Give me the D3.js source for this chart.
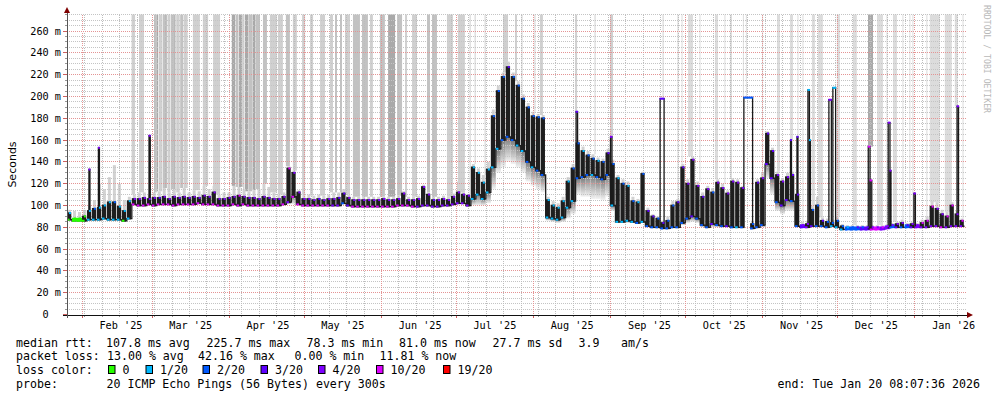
<!DOCTYPE html>
<html lang="en">
<head>
<meta charset="UTF-8">
<title>Smokeping - last 360 days</title>
<script src="https://d3js.org/d3.v7.min.js"></script>
<style>
  body { margin: 0; background: #fff; }
  svg { display: block; }
</style>
</head>
<body>
<script>
// plot window (UTC), 2-day buckets, values in ms
const startTime = Date.UTC(2025, 0, 25, 20, 45);
const spanDays = 361;
const bucketDays = 2;

// median rtt swing per bucket (low / high edge of the dark band)
const rttLow = [
  87,86,86,86,87,87,87,88,87,87, 87,86,88,101,100,100,101,100,101,101,
  101,100,101,101,101,101,102,101,101,101, 100,100,100,101,100,101,100,100,100,100,
  100,100,100,101,103,108,101,100,100,100, 100,100,100,100,100,102,100,99,99,99,
  99,99,99,99,99,99,100,100,100,99, 99,100,100,99,99,100,100,101,102,102,
  100,106,110,106,112,135,152,160,163,160, 155,150,140,135,132,128,89,88,87,89,
  98,104,125,126,128,128,126,124,128,100, 85,85,86,85,84,85,81,80,80,79,
  79,80,80,84,88,90,88,82,80,83, 82,81,81,80,80,80,null,79,80,82,
  138,125,103,100,105,104,81,80,80,81, 81,81,80,81,80,78,78,78,78,78,
  78,78,78,78,79,80,80,80,80,80, 80,80,80,81,81,80,80,81,81,81
];
const rttHigh = [
  93,88,88,90,95,97,98,100,103,103, 99,95,104,106,106,107,106,107,107,108,
  106,108,107,108,107,108,107,109,108,112, 106,106,107,108,109,108,107,107,106,108,
  107,106,106,108,134,130,112,106,106,105, 106,105,106,106,107,111,107,105,105,105,
  105,105,105,106,105,105,106,111,105,105, 106,117,110,105,105,106,105,108,112,110,
  109,135,130,121,133,182,205,218,227,218, 210,198,190,182,181,180,105,100,98,104,
  122,134,157,150,146,143,141,140,148,138, 125,120,118,104,103,129,95,90,88,84,
  86,100,103,135,120,142,118,108,115,112, 121,116,111,122,121,116,null,83,121,125,
  166,150,128,122,126,128,110,82,83,96, 100,86,85,84,86,81,80,80,80,80,
  80,80,80,80,81,82,83,84,82,83, 82,84,86,99,97,92,90,100,92,86
];
// extent of the grey smoke below and above the band
const smokeLow = [
  87,86,86,86,87,87,87,88,87,87, 87,86,88,101,100,100,101,100,101,101,
  101,100,101,101,101,101,102,101,101,101, 100,100,100,101,100,101,100,100,100,100,
  100,100,100,101,101,101,101,100,100,100, 100,100,100,100,100,102,100,99,99,99,
  99,99,99,99,99,99,100,100,100,99, 99,100,100,99,99,100,100,101,102,102,
  100,100,100,100,102,115,130,135,140,138, 135,130,122,118,115,112,86,85,84,85,
  88,92,110,108,108,106,106,105,108,95, 84,84,84,84,83,84,80,79,79,78,
  78,79,79,82,84,85,84,80,79,80, 80,80,80,79,79,79,null,78,79,80,
  125,110,95,92,95,95,80,79,79,80, 80,80,79,80,79,78,78,78,78,78,
  78,78,78,78,78,79,79,79,79,79, 79,79,79,80,80,79,79,80,80,80
];
const smokeHigh = [
  96,95,94,96,100,105,120,115,126,137, 120,105,108,110,112,112,110,112,113,116,
  112,115,112,116,112,114,113,118,115,118, 110,112,112,118,117,115,113,114,115,120,
  117,112,110,112,136,132,114,110,110,109, 110,109,110,112,112,115,110,108,108,108,
  108,108,108,108,108,108,109,113,108,108, 109,119,112,108,108,109,108,111,122,112,
  110,138,134,128,140,188,210,222,232,222, 214,202,194,186,184,183,108,104,102,108,
  126,138,160,154,150,147,144,143,152,142, 128,124,122,108,106,131,98,92,90,86,
  90,104,106,138,124,145,122,112,118,116, 124,120,114,125,124,118,null,86,124,130,
  168,153,131,125,130,131,114,85,86,100, 108,89,88,87,90,83,82,82,82,82,
  82,82,82,82,83,84,85,87,84,85, 84,87,90,104,103,96,94,103,95,88
];
// loss colour index seen at the low and at the high edge
const lossLow = [
  0,0,0,0,1,1,1,1,1,1, 1,0,1,5,5,5,5,5,5,5,
  5,5,5,5,5,5,5,5,5,5, 5,5,5,5,5,5,5,5,5,5,
  5,5,5,5,4,5,5,5,5,5, 5,5,5,4,4,2,3,5,5,5,
  5,5,5,5,5,5,5,5,5,5, 4,4,4,4,4,4,4,4,4,4,
  4,1,1,1,1,1,1,2,2,2, 1,1,2,1,2,2,1,1,1,1,
  1,1,2,2,2,1,2,2,2,1, 1,1,1,1,2,1,2,2,2,2,
  2,2,2,2,2,3,2,2,2,3, 2,2,3,2,1,2,2,2,2,2,
  3,3,2,3,3,2,2,3,4,3, 2,2,2,1,1,1,2,2,2,3,
  3,5,5,4,4,2,3,2,2,3, 4,4,4,4,4,5,4,4,4,4
];
const lossHigh = [
  1,0,0,0,1,2,1,1,1,2, 1,1,1,4,4,4,4,4,3,4,
  4,4,4,4,4,4,4,4,4,4, 4,4,4,4,5,4,4,4,4,4,
  4,4,4,4,5,4,4,4,4,4, 3,4,4,4,3,3,4,4,4,4,
  4,4,4,4,4,4,4,4,4,4, 4,4,4,3,4,4,4,4,4,4,
  4,1,1,1,1,2,2,2,3,2, 2,2,2,2,2,2,1,1,1,1,
  1,2,2,1,2,2,1,2,3,2, 1,2,1,2,1,2,3,3,2,3,
  2,2,3,3,4,4,4,3,4,2, 4,4,4,4,4,4,2,2,3,4,
  3,3,4,4,4,3,3,4,4,2, 2,3,2,2,2,2,1,2,3,2,
  3,4,4,5,4,4,4,4,3,4, 4,5,5,5,4,4,5,5,4,5
];

// single-sample spikes and plateaus: [start day, end day, top ms, loss index]
const spikes = [
  [8.8, 9.2, 133, 4], [12.6, 13.0, 153, 4], [32.9, 33.4, 164, 4],
  [204.2, 204.8, 186, 3], [218.0, 218.6, 163, 4], [237.9, 239.5, 198, 3],
  [271.5, 275.0, 199, 2], [290.2, 290.6, 160, 3], [292.8, 293.2, 163, 3],
  [297.2, 297.8, 206, 1], [297.8, 298.2, 160, 1], [305.6, 306.6, 197, 4],
  [307.2, 308.3, 208, 1], [321.4, 322.1, 154, 5], [322.1, 322.8, 123, 5],
  [329.4, 330.1, 176, 4], [330.1, 330.5, 132, 4], [339.7, 340.3, 111, 4],
  [357.0, 357.6, 191, 4]
];

// smoke running off the top of the graph: [start day, end day, shade]
const topSmoke = [
  [25.9,27.3,1],[28.9,30.9,1],
  [34.9,36.0,2],[36.0,36.6,3],[36.9,38.2,1],[38.4,39.4,2],[39.4,40.0,3],[40.3,41.5,1],
  [41.7,43.0,2],[43.0,43.5,3],[43.8,45.2,1],[45.4,46.6,2],[46.8,48.4,1],
  [50.5,53.3,1],[54.5,56.6,1],[58.6,61.4,1],
  [66.1,67.4,3],[67.6,68.8,2],[69.0,70.4,3],[70.6,71.2,1],[71.4,72.8,3],[73.0,74.2,2],
  [74.4,75.6,3],[75.8,77.4,2],
  [78.6,80.2,2],[81.4,84.2,1],[84.6,86.6,1],
  [87.8,89.4,2],[90.6,92.2,1],[94.3,95.5,1],[97.5,98.7,1],[101.5,103.5,1],[105.5,106.7,1],
  [107.5,108.3,2],[109.5,110.3,2],[111.5,113.5,1],[114.7,117.5,2],[118.3,120.7,2],[121.5,122.7,1],
  [125.5,127.5,2],[128.8,131.6,3],[132.4,134.4,2],[135.6,136.4,1],[138.4,140.4,1],[144.4,145.6,2],
  [146.4,148.4,2],[152.4,154.8,1],[156.8,159.6,1],
  [161.5,161.9,1],[163.5,163.9,1],[167.5,167.9,1],[174.9,176.9,1],[179.7,180.5,1],[182.3,182.7,1],
  [187.5,187.9,1],[189.7,190.9,1],[203.8,204.6,1],[211.6,212.0,1],[217.8,219.0,1],[238.9,239.3,1],
  [244.9,245.3,1],
  [246.5,246.9,0],[249.1,251.1,0],[253.7,254.1,0],[259.9,261.1,0],[263.7,264.1,0],[265.9,266.7,0],
  [271.1,271.5,0],[272.3,272.7,0],[278.8,279.2,0],[284.8,286.0,0],[290.0,291.2,0],[293.0,293.4,0],
  [295.0,295.4,0],[298.8,300.0,0],[301.2,303.2,0],[308.8,310.0,0],[315.2,316.8,0],[321.3,323.3,3],
  [324.9,327.3,0],[328.7,329.1,0],[331.3,332.9,0],[335.1,335.5,0],[337.9,338.3,0],[339.1,339.5,0],
  [344.7,345.1,0],[346.1,350.1,0],[352.1,354.9,0],[356.1,357.3,0],[359.2,359.6,0]
];

const lossColors = ["#26ff00", "#00b8ff", "#0059ff", "#5e00ff", "#7e00ff", "#dd00ff", "#ff0000"];
const lossLabels = ["0", "1/20", "2/20", "3/20", "4/20", "10/20", "19/20"];
const yTicks = d3.range(0, 261, 20);
const rttStats = ["107.8 ms avg", "225.7 ms max", "78.3 ms min", "81.0 ms now", "27.7 ms sd", "3.9", "am/s"];
const lossStats = ["13.00 % avg", "42.16 % max", "0.00 % min", "11.81 % now"];
const probeText = "20 ICMP Echo Pings (56 Bytes) every 300s";
const endText = "end: Tue Jan 20 08:07:36 2026";

// ---------------------------------------------------------------
const mono = "'DejaVu Sans Mono', monospace";
const shades = ["#dcdcdc", "#d0d0d0", "#c2c2c2", "#a9a9a9"];
const yMax = 275.2;

const svg = d3.select("body").append("svg")
    .attr("width", 997)
    .attr("height", 397);

svg.append("rect").attr("width", 997).attr("height", 397).attr("fill", "#fff");

const day = d => new Date(startTime + d * 864e5);
const x = d3.scaleUtc().domain([day(0), day(spanDays)]).range([67, 967]);
const y = d3.scaleLinear().domain([0, yMax]).range([314.5, 14.5]);
const xd = d => x(day(d));

const grad = svg.append("defs").append("linearGradient")
    .attr("id", "smoke").attr("x1", 0).attr("y1", 0).attr("x2", 0).attr("y2", 1);
grad.append("stop").attr("offset", 0).attr("stop-color", "#7a7a7a");
grad.append("stop").attr("offset", 1).attr("stop-color", "#f2f2f2");

const buckets = rttLow.map((lo, i) => ({
    lo, hi: rttHigh[i], sLo: smokeLow[i], sHi: smokeHigh[i],
    lLo: lossLow[i], lHi: lossHigh[i],
    d0: i * bucketDays, d1: (i + 1) * bucketDays
})).filter(b => b.lo != null);

const bucketAt = d => Math.max(0, Math.min(rttLow.length - 1, Math.floor(d / bucketDays)));
function baseAt(d) {
    let i = bucketAt(d);
    while (rttLow[i] == null && i > 0) i--;
    return rttLow[i];
}
function smokeTopAt(d) {
    let v = smokeHigh[bucketAt(d)] || 0;
    spikes.forEach(s => { if (d >= s[0] - 0.3 && d <= s[1] + 0.3) v = Math.max(v, s[2]); });
    return v;
}

// smoke that goes off the top
svg.append("g").selectAll("rect")
    .data(topSmoke)
    .join("rect")
    .attr("x", d => xd(d[0]))
    .attr("width", d => Math.max(1, xd(d[1]) - xd(d[0])))
    .attr("y", y(yMax))
    .attr("height", d => y(smokeTopAt((d[0] + d[1]) / 2)) - y(yMax))
    .attr("fill", d => shades[d[2]]);

const smoke = svg.append("g");

// upper smoke
smoke.selectAll(".sup")
    .data(buckets.filter(b => b.sHi > b.hi))
    .join("rect")
    .attr("x", b => xd(b.d0) + 1)
    .attr("width", b => xd(b.d1) - xd(b.d0) - 2)
    .attr("y", b => y(b.sHi))
    .attr("height", b => y(b.hi) - y(b.sHi))
    .attr("fill", "#d2d2d2");

// lower smoke, fading out
smoke.selectAll(".sdn")
    .data(buckets.filter(b => b.lo > b.sLo))
    .join("rect")
    .attr("x", b => xd(b.d0))
    .attr("width", b => xd(b.d1) - xd(b.d0))
    .attr("y", b => y(b.lo))
    .attr("height", b => y(b.sLo) - y(b.lo))
    .attr("fill", "url(#smoke)");

// grid (over the smoke, under the median)
const grid = svg.append("g").attr("shape-rendering", "crispEdges").attr("stroke-dasharray", "1,1");
const minorY = d3.range(5, yMax, 5).filter(v => v % 20 !== 0);
grid.selectAll(".gy")
    .data(minorY)
    .join("line")
    .attr("x1", 67).attr("x2", 967)
    .attr("y1", d => y(d)).attr("y2", d => y(d))
    .attr("stroke", "#c4c4c4");
const weeks = d3.utcSunday.range(day(0), day(spanDays));
grid.selectAll(".gx")
    .data(weeks)
    .join("line")
    .attr("x1", d => x(d)).attr("x2", d => x(d))
    .attr("y1", y(yMax)).attr("y2", y(0))
    .attr("stroke", "#bdbdbd");
grid.selectAll(".my")
    .data(yTicks.slice(1))
    .join("line")
    .attr("x1", 67).attr("x2", 967)
    .attr("y1", d => y(d)).attr("y2", d => y(d))
    .attr("stroke", "#e49494");
const months = d3.utcMonth.range(day(0), day(spanDays));
grid.selectAll(".mx")
    .data(months)
    .join("line")
    .attr("x1", d => x(d)).attr("x2", d => x(d))
    .attr("y1", y(yMax)).attr("y2", y(0))
    .attr("stroke", "#e49494");

const plot = svg.append("g");

// thin median trace along the low edge
const trace = [];
rttLow.forEach((v, i) => {
    trace.push([i * bucketDays, v]);
    if (i === rttLow.length - 1) trace.push([(i + 1) * bucketDays, v]);
});
plot.append("path")
    .datum(trace)
    .attr("d", d3.line().defined(p => p[1] != null).x(p => xd(p[0])).y(p => y(p[1])).curve(d3.curveStepAfter))
    .attr("fill", "none")
    .attr("stroke", "#1e1e1e")
    .attr("stroke-width", 1.3);

// dark median band
plot.selectAll(".band")
    .data(buckets)
    .join("rect")
    .attr("x", b => xd(b.d0))
    .attr("width", b => (b.hi - b.lo < 3) ? xd(b.d1) - xd(b.d0) + 0.2 : xd(b.d1) - xd(b.d0) - 0.7)
    .attr("y", b => y(b.hi) - 0.8)
    .attr("height", b => y(b.lo) - y(b.hi) + 1.6)
    .attr("fill", b => (b.hi - b.lo < 3) ? lossColors[b.lLo] : "#1e1e1e");

// spikes / plateaus
plot.selectAll(".spike")
    .data(spikes)
    .join("path")
    .attr("d", s => `M${xd(s[0])},${y(baseAt(s[0]))}V${y(s[2])}H${xd(s[1])}V${y(baseAt(s[1]))}`)
    .attr("fill", "none")
    .attr("stroke", "#1a1a1a")
    .attr("stroke-width", 1.3);
plot.selectAll(".spikeTop")
    .data(spikes)
    .join("rect")
    .attr("x", s => xd(s[0]) - 0.5)
    .attr("width", s => xd(s[1]) - xd(s[0]) + 1)
    .attr("y", s => y(s[2]) - 1)
    .attr("height", 2)
    .attr("fill", s => lossColors[s[3]]);

// loss colour marks on the band edges
plot.selectAll(".lo")
    .data(buckets)
    .join("rect")
    .attr("x", b => xd(b.d0))
    .attr("width", 2.6)
    .attr("y", b => y(b.lo) - 1)
    .attr("height", 2)
    .attr("fill", b => lossColors[b.lLo]);
plot.selectAll(".hi")
    .data(buckets)
    .join("rect")
    .attr("x", b => xd(b.d0) + 2)
    .attr("width", 2)
    .attr("y", b => y(b.hi) - 1)
    .attr("height", 2)
    .attr("fill", b => lossColors[b.lHi]);

// axes
const axes = svg.append("g").attr("shape-rendering", "crispEdges");
axes.selectAll(".ty")
    .data(d3.range(0, yMax, 5))
    .join("line")
    .attr("x1", d => d % 20 === 0 ? 63 : 65).attr("x2", 67)
    .attr("y1", d => y(d)).attr("y2", d => y(d))
    .attr("stroke", d => d % 20 === 0 ? "#cc6060" : "#999");
axes.selectAll(".tw")
    .data(weeks)
    .join("line")
    .attr("x1", d => x(d)).attr("x2", d => x(d))
    .attr("y1", 315).attr("y2", 317)
    .attr("stroke", "#999");
axes.selectAll(".tm")
    .data(months)
    .join("line")
    .attr("x1", d => x(d)).attr("x2", d => x(d))
    .attr("y1", 315).attr("y2", 318)
    .attr("stroke", "#cc6060");
axes.append("line").attr("x1", 63).attr("x2", 968).attr("y1", 315).attr("y2", 315).attr("stroke", "#111");
axes.append("line").attr("x1", 67).attr("x2", 67).attr("y1", 318).attr("y2", 12).attr("stroke", "#555");
svg.append("path").attr("d", "M967,312L973,315L967,318Z").attr("fill", "#7f0000");
svg.append("path").attr("d", "M64,13L67,7L70,13Z").attr("fill", "#7f0000");

// tick labels
svg.append("g").selectAll("text")
    .data(yTicks)
    .join("text")
    .attr("x", d => d === 0 ? 48.7 : 61)
    .attr("y", d => y(d) + 3.6)
    .attr("text-anchor", "end")
    .style("font-family", mono)
    .style("font-size", "10.2px")
    .text(d => d === 0 ? "0" : d + " m");

const fmtMonth = d3.utcFormat("%b '%y");
svg.append("g").selectAll("text")
    .data(months)
    .join("text")
    .attr("x", d => x(new Date(+d + 15.5 * 864e5)))
    .attr("y", 328.5)
    .attr("text-anchor", "middle")
    .style("font-family", mono)
    .style("font-size", "10.2px")
    .text(fmtMonth);

svg.append("text")
    .attr("transform", "translate(15.5,164.5) rotate(-90)")
    .attr("text-anchor", "middle")
    .style("font-family", "'DejaVu Sans', sans-serif")
    .style("font-size", "11px")
    .text("Seconds");

svg.append("text")
    .attr("transform", "translate(983.5,5) rotate(90)")
    .attr("textLength", 108)
    .attr("lengthAdjust", "spacingAndGlyphs")
    .style("font-family", mono)
    .style("font-size", "8.6px")
    .attr("fill", "#b8b8b8")
    .text("RRDTOOL / TOBI OETIKER");

// legend
const legend = svg.append("g")
    .style("font-family", mono)
    .style("font-size", "11.6px")
    .attr("fill", "#000");
const rowY = [346.5, 360.3, 374, 387.7];
const put = (txt, px, row) => legend.append("text").attr("x", px).attr("y", rowY[row])
    .attr("xml:space", "preserve").text(txt);

put("median rtt:", 16, 0);
[106, 206.5, 306.5, 399, 492.5, 578.5, 621].forEach((px, i) => put(rttStats[i], px, 0));
put("packet loss:", 16, 1);
[107, 198, 294.5, 379.5].forEach((px, i) => put(lossStats[i], px, 1));
put("loss color:", 16, 2);
const boxX = [108.5, 146, 203, 261, 318.5, 376.5, 443.5];
lossLabels.forEach((lab, i) => {
    legend.append("rect")
        .attr("x", boxX[i]).attr("y", 365.5)
        .attr("width", 6.5).attr("height", 8)
        .attr("fill", lossColors[i])
        .attr("stroke", "#000").attr("stroke-width", 1);
    put(lab, boxX[i] + 14, 2);
});
put("probe:", 16, 3);
put(probeText, 106.5, 3);
put(endText, 777.5, 3);
</script>
</body>
</html>
